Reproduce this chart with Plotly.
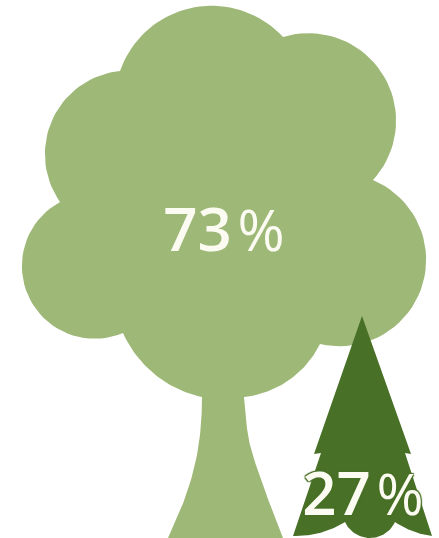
import numpy as np
import plotly.graph_objects as go

# Share of each forest type
categories = ["Broadleaf", "Conifer"]
shares = [73, 27]
colors = ["#9EB877", "#487026"]
label_color = "#FBFBF2"

# Outline of the broadleaf crown: each lobe is (start, point on rim, end)
crown_lobes = [
    ((120, 71), (205, 6), (283, 37)),
    ((283, 37), (396, 117), (373, 180)),
    ((373, 180), (426, 265), (320, 344)),
    ((320, 344), (283, 384), (244, 397)),
]
crown_lobes_left = [
    ((202, 397), (140, 360), (123, 333)),
    ((123, 333), (22, 270), (60, 202)),
    ((60, 202), (45, 150), (120, 71)),
]
trunk_right = [(244, 397), (246, 420), (250, 445), (260, 477), (271, 507), (283, 538)]
trunk_left = [(168, 538), (180, 511), (190, 483), (197, 455), (201, 425), (202, 397)]

# Outline of the conifer
conifer_upper = [(362, 316), (411, 454), (405, 453), (432, 536)]
conifer_base = [
    ((432, 536), (412, 531), (395, 522)),
    ((395, 522), (370, 538), (345, 522)),
    ((345, 522), (326, 531), (293, 536)),
]
conifer_upper_left = [(293, 536), (321, 453), (314, 454), (362, 316)]


def arc(start, mid, end, n=40):
    """Sample the circular arc running from start through mid to end."""
    (ax, ay), (bx, by), (cx, cy) = start, mid, end
    d = 2 * (ax * (by - cy) + bx * (cy - ay) + cx * (ay - by))
    ux = ((ax**2 + ay**2) * (by - cy) + (bx**2 + by**2) * (cy - ay) + (cx**2 + cy**2) * (ay - by)) / d
    uy = ((ax**2 + ay**2) * (cx - bx) + (bx**2 + by**2) * (ax - cx) + (cx**2 + cy**2) * (bx - ax)) / d
    r = np.hypot(ax - ux, ay - uy)
    t0 = np.arctan2(ay - uy, ax - ux)
    t1 = np.arctan2(by - uy, bx - ux)
    t2 = np.arctan2(cy - uy, cx - ux)
    # Walk in whichever direction passes through the middle point
    sweep = (t2 - t0) % (2 * np.pi)
    if (t1 - t0) % (2 * np.pi) > sweep:
        sweep -= 2 * np.pi
    t = t0 + np.linspace(0, 1, n) * sweep
    return list(zip(ux + r * np.cos(t), uy + r * np.sin(t)))


def smooth(points, n=12):
    """Catmull-Rom curve through the given points."""
    p = np.array([points[0]] + points + [points[-1]], dtype=float)
    out = []
    for i in range(1, len(p) - 2):
        for s in np.linspace(0, 1, n):
            out.append(tuple(0.5 * (2 * p[i] + (p[i + 1] - p[i - 1]) * s
                                    + (2 * p[i - 1] - 5 * p[i] + 4 * p[i + 1] - p[i + 2]) * s**2
                                    + (3 * p[i] - p[i - 1] - 3 * p[i + 1] + p[i + 2]) * s**3)))
    return out


def share_label(value):
    """Percentage label with a lighter, slightly smaller percent sign."""
    return f"{value}<span style='font-size:57px;font-weight:400'>\u200a%</span>"


crown = []
for lobe in crown_lobes:
    crown += arc(*lobe)
crown += smooth(trunk_right) + smooth(trunk_left)
for lobe in crown_lobes_left:
    crown += arc(*lobe)

conifer = list(conifer_upper)
for lobe in conifer_base:
    conifer += arc(*lobe)
conifer += conifer_upper_left

fig = go.Figure()
for name, outline, color in zip(categories, [crown, conifer], colors):
    xs, ys = zip(*outline)
    fig.add_trace(go.Scatter(x=xs, y=ys, mode="lines", fill="toself", fillcolor=color,
                             line=dict(width=0, color=color), name=name, hoverinfo="skip"))

halo = ",".join(f"{dx}px {dy}px 1px {colors[1]}" for dx in (-1, 1) for dy in (-1, 1))
label_font = dict(family="Open Sans", size=60, color=label_color, weight=600)
fig.add_trace(go.Scatter(x=[224], y=[236], mode="text", text=[share_label(shares[0])],
                         textfont=label_font, hoverinfo="skip"))
fig.add_trace(go.Scatter(x=[363], y=[500], mode="text", text=[share_label(shares[1])],
                         textfont=dict(label_font, shadow=halo), hoverinfo="skip"))

fig.update_layout(
    width=439, height=538, margin=dict(l=0, r=0, t=0, b=0),
    paper_bgcolor="white", plot_bgcolor="white", showlegend=False,
    xaxis=dict(range=[0, 439], visible=False, fixedrange=True),
    yaxis=dict(range=[538, 0], visible=False, fixedrange=True),
)
fig.write_html("out.html", config={"displayModeBar": False})
